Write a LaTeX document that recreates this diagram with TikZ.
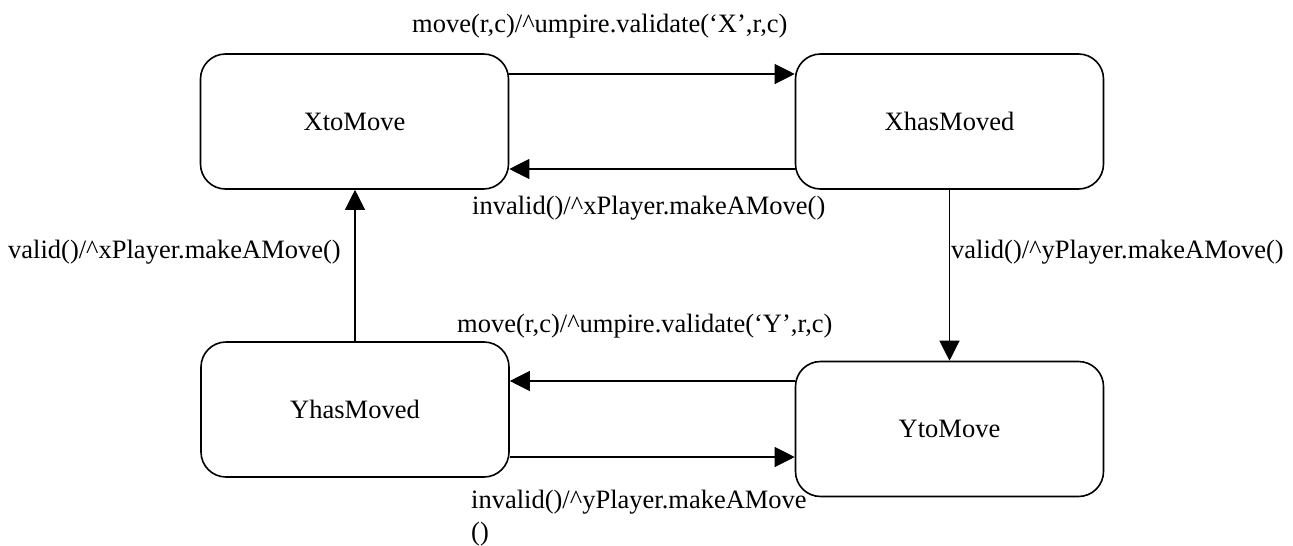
\documentclass[tikz,border=0pt]{standalone}
\usepackage{fontspec}
\setmainfont{Liberation Serif}
\usetikzlibrary{arrows.meta}

\begin{document}
\begin{tikzpicture}[x=1pt,y=-1pt,
  state/.style={draw, line width=1.6pt, rounded corners=25pt, inner sep=0pt,
    minimum width=308pt, minimum height=135pt, font=\fontsize{26.5}{32}\selectfont},
  trans/.style={draw, line width=1.2pt, -{Triangle[length=20pt,width=20pt]}},
  lbl/.style={inner sep=0pt, anchor=base west, font=\fontsize{26.5}{32}\selectfont}]
\useasboundingbox (0,0) rectangle (1293,546);

% states
\node[state] (xto)  at (354.5,121.5) {XtoMove};
\node[state] (xhas) at (949.5,121.5) {XhasMoved};
\node[state] (yhas) at (355,409.5)   {YhasMoved};
\node[state] (yto)  at (949.5,429)   {YtoMove};

% connector end points on the box sides
\coordinate (a1) at ([yshift=47.5pt]xto.east);
\coordinate (a2) at ([yshift=-47.5pt]xhas.west);
\coordinate (b1) at ([yshift=48pt]yto.west);
\coordinate (b2) at ([yshift=-47.5pt]yhas.east);

% transitions
\draw[trans] (a1) -- (a1 -| xhas.west);
\draw[trans] (a2) -- (a2 -| xto.east);
\draw[trans] (xhas.south) -- (yto.north);
\draw[trans] (yhas.north) -- (yhas.north |- xto.south);
\draw[trans] (b1) -- (b1 -| yhas.east);
\draw[trans] (b2) -- (b2 -| yto.west);

% transition labels
\node[lbl] (l1) at (412,32)  {move(r,c)/\textasciicircum umpire.validate(‘X’,r,c)};
\node[lbl] (l2) at (472,214) {invalid()/\textasciicircum xPlayer.makeAMove()};
\node[lbl] (l3) at (8,258)   {valid()/\textasciicircum xPlayer.makeAMove()};
\node[lbl] (l4) at (951,258) {valid()/\textasciicircum yPlayer.makeAMove()};
\node[lbl] (l5) at (457,332) {move(r,c)/\textasciicircum umpire.validate(‘Y’,r,c)};
\node[lbl, align=left] (l6) at (471,540) {invalid()/\textasciicircum yPlayer.makeAMove\\()};
\end{tikzpicture}
\end{document}
